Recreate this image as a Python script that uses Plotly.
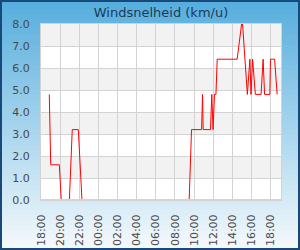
import plotly.graph_objects as go

# ---- data ----
times = [
    "2024-05-01 18:52", "2024-05-01 19:01", "2024-05-01 19:55", "2024-05-01 20:07",
    "2024-05-01 20:58", "2024-05-01 21:16", "2024-05-01 21:54", "2024-05-01 22:17",
    "2024-05-02 09:29", "2024-05-02 09:44", "2024-05-02 10:47", "2024-05-02 10:53",
    "2024-05-02 10:57", "2024-05-02 11:43", "2024-05-02 11:51", "2024-05-02 11:59",
    "2024-05-02 12:08", "2024-05-02 12:17", "2024-05-02 12:25", "2024-05-02 14:30",
    "2024-05-02 14:58", "2024-05-02 15:04", "2024-05-02 15:34", "2024-05-02 15:46",
    "2024-05-02 15:50", "2024-05-02 15:57", "2024-05-02 16:03", "2024-05-02 16:07",
    "2024-05-02 16:24", "2024-05-02 17:00", "2024-05-02 17:13", "2024-05-02 17:22",
    "2024-05-02 17:55", "2024-05-02 17:59", "2024-05-02 18:25", "2024-05-02 18:41",
]
wind = [
    4.8, 1.6, 1.6, 0.0,
    0.0, 3.2, 3.2, 0.0,
    0.0, 3.2, 3.2, 4.8,
    3.2, 3.2, 4.8, 3.2,
    4.8, 4.8, 6.4, 6.4,
    8.0, 8.0, 4.8, 6.4,
    6.4, 4.8, 6.4, 6.4,
    4.8, 4.8, 6.4, 4.8,
    4.8, 6.4, 6.4, 4.8,
]
title_text = "Windsnelheid (km/u)"
x_start = "2024-05-01 18:00"
x_end = "2024-05-02 19:05"
y_ticks = [0, 1, 2, 3, 4, 5, 6, 7, 8]

# ---- layout geometry ----
W, H = 300, 250
L, R, T, B = 41, 19, 24, 50
pw, ph = W - L - R, H - T - B


def px_x(px):
    return (px - L) / pw


def px_y(py):
    return (H - B - py) / ph


shapes = []
# gradient background strips
top_c = (86, 174, 221)
bot_c = (244, 249, 252)
n = 50
for i in range(n):
    f = i / (n - 1)
    c = tuple(round(top_c[k] + (bot_c[k] - top_c[k]) * f) for k in range(3))
    y0 = i * H / n
    y1 = (i + 1) * H / n + 0.5
    shapes.append(dict(type="rect", xref="paper", yref="paper", layer="below",
                       x0=px_x(0), x1=px_x(W), y0=px_y(y1), y1=px_y(y0),
                       fillcolor="rgb(%d,%d,%d)" % c, line=dict(width=0)))
# plot area white
shapes.append(dict(type="rect", xref="paper", yref="paper", layer="below",
                   x0=0, x1=1, y0=0, y1=1, fillcolor="white", line=dict(width=0)))
# alternating bands
for lo in [1, 3, 5, 7]:
    shapes.append(dict(type="rect", xref="paper", yref="y", layer="below",
                       x0=0, x1=1, y0=lo, y1=lo + 1, fillcolor="#f2f2f2",
                       line=dict(width=0)))
# bottom edge line drawn above the trace
shapes.append(dict(type="line", xref="paper", yref="paper", layer="above",
                   x0=0, x1=1, y0=0, y1=0, line=dict(color="#d3d3d3", width=2)))
# outer border
shapes.append(dict(type="rect", xref="paper", yref="paper", layer="above",
                   x0=px_x(1), x1=px_x(W - 1), y0=px_y(H - 1), y1=px_y(1),
                   line=dict(color="#17497a", width=2), fillcolor="rgba(0,0,0,0)"))

fig = go.Figure()
fig.add_trace(go.Scatter(x=times, y=wind, mode="lines",
                         line=dict(color="#ff0000", width=1), hoverinfo="skip"))

fig.update_layout(
    width=W, height=H,
    margin=dict(l=L, r=R, t=T, b=B, pad=0, autoexpand=False),
    paper_bgcolor="rgba(0,0,0,0)",
    plot_bgcolor="rgba(0,0,0,0)",
    showlegend=False,
    shapes=shapes,
    font=dict(family="DejaVu Sans", size=11, color="#4a4a4a"),
    title=dict(text=title_text, x=0.5, xref="paper", xanchor="center",
               y=1 - 12 / H, yref="container", yanchor="middle",
               font=dict(family="DejaVu Sans", size=13, color="#1c3a58")),
)
fig.update_xaxes(
    type="date", range=[x_start, x_end],
    tick0="2024-05-01 18:00", dtick=2 * 3600 * 1000,
    tickformat="%H:%M", tickangle=-90, automargin=False,
    showgrid=True, gridcolor="#d3d3d3", gridwidth=1,
    showline=True, linecolor="#d3d3d3", linewidth=1, mirror=True,
    ticks="", ticklabelstandoff=9, zeroline=False,
)
fig.update_yaxes(
    range=[0, 8], tickvals=y_ticks, tickformat=".1f", automargin=False,
    showgrid=True, gridcolor="#d3d3d3", gridwidth=1,
    showline=True, linecolor="#d3d3d3", linewidth=1, mirror=True,
    ticks="", ticklabelstandoff=8, zeroline=False,
)

fig.write_html("out.html")
